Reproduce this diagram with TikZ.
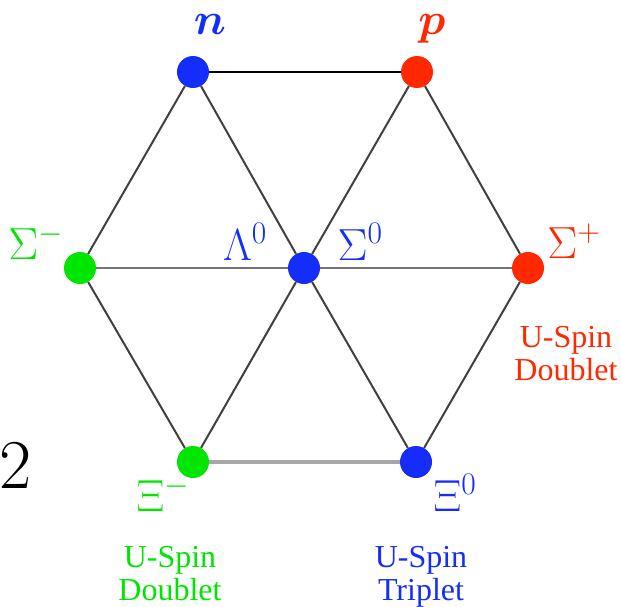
\RequirePackage{fix-cm}
\documentclass[tikz,border=0pt]{standalone}
\usepackage{fontspec}
\usepackage{amsmath}
\newfontfamily\txtfont{Liberation Serif}
\definecolor{hblue}{RGB}{20,45,250}
\definecolor{hred}{RGB}{255,40,0}
\definecolor{hgreen}{RGB}{0,230,0}
\tikzset{
  dot/.style={circle,fill=#1,inner sep=0pt,minimum size=32pt},
  diag/.style={draw=black!75,line width=2pt},
  lbl/.style={inner sep=0pt,anchor=base,font=\fontsize{45}{45}\selectfont,text=#1},
  note/.style={inner sep=0pt,anchor=base,align=center,font=\txtfont\fontsize{32}{33}\selectfont,text=#1}
}
\begin{document}
\begin{tikzpicture}[x=1pt,y=-1pt]
\useasboundingbox (0,0) rectangle (621,607);
\node[dot=hblue] (n) at (193,72) {};
\node[dot=hred] (p) at (417,72) {};
\node[dot=hgreen] (sm) at (80,268) {};
\node[dot=hblue] (c) at (304,268) {};
\node[dot=hred] (sp) at (528,268) {};
\node[dot=hgreen] (xm) at (193,462) {};
\node[dot=hblue] (x0) at (416,462) {};
% edges
\draw[black,line width=2.5pt] (n) -- (p);
\draw[diag] (p) -- (sp);
\draw[diag] (sp) -- (x0);
\draw[diag] (xm) -- (sm);
\draw[diag] (sm) -- (n);
\draw[diag] (n) -- (c);
\draw[diag] (c) -- (x0);
\draw[diag] (p) -- (c);
\draw[diag] (c) -- (xm);
\draw[draw=black!55,line width=2.5pt] (sm) -- (c);
\draw[draw=black!55,line width=2.5pt] (c) -- (sp);
\draw[draw=black!35,line width=4pt] (xm) -- (x0);
% labels
\node[lbl=hblue] (ln) at (210,35) {$\boldsymbol{n}$};
\node[lbl=hred] (lp) at (432,35) {$\boldsymbol{p}$};
\node[lbl=hgreen] (lsm) at (36,259) {$\Sigma^-$};
\node[lbl=hblue] (ll) at (245,260) {$\Lambda^0$};
\node[lbl=hblue] (ls0) at (360,260) {$\Sigma^0$};
\node[lbl=hred] (lsp) at (574,258) {$\Sigma^+$};
\node[lbl=hgreen] (lxm) at (163,511) {$\Xi^-$};
\node[lbl=hblue] (lx0) at (455,511) {$\Xi^0$};
\node[note=hred] (d1) at (566,380) {U-Spin\\Doublet};
\node[note=hgreen] (d2) at (170,600) {U-Spin\\Doublet};
\node[note=hblue] (t1) at (421,600) {U-Spin\\Triplet};
\node[inner sep=0pt,anchor=base,font=\fontsize{70}{70}\selectfont] (two) at (16,488) {2};
\end{tikzpicture}
\end{document}
